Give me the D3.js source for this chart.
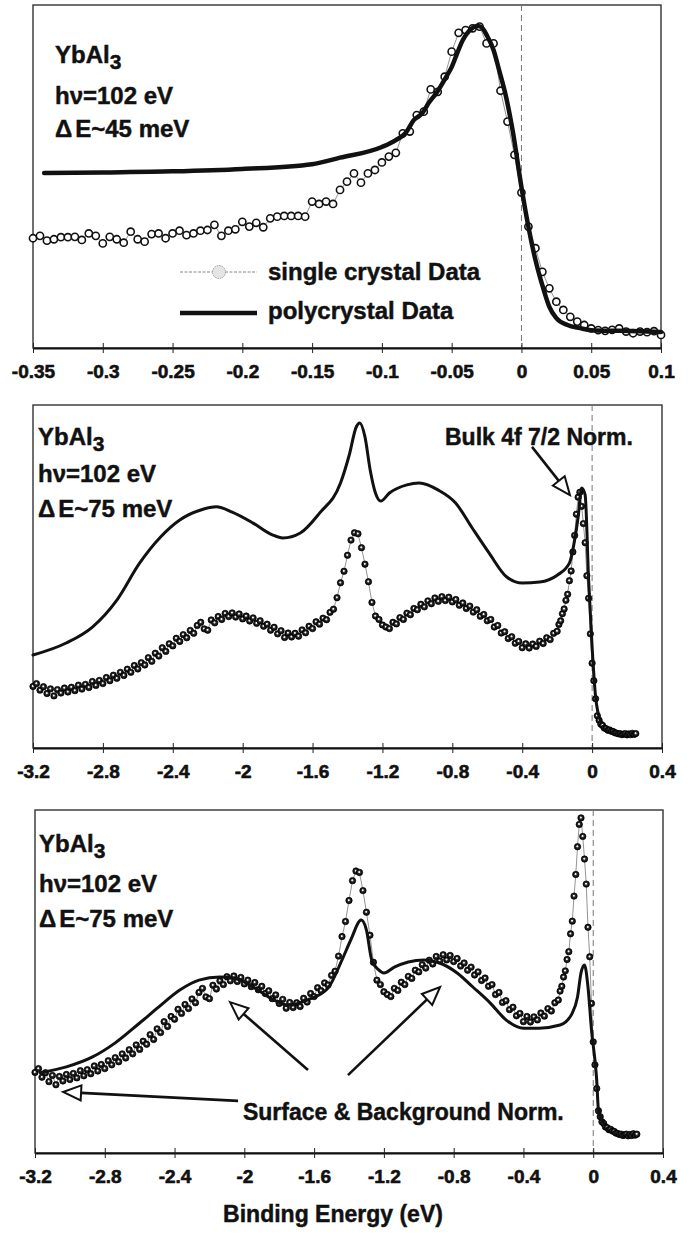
<!DOCTYPE html>
<html>
<head>
<meta charset="utf-8">
<script src="https://cdn.jsdelivr.net/npm/d3@7"></script>
<style>
  body { margin: 0; background: #fff; }
  text { font-family: "Liberation Sans", Arial, sans-serif; font-weight: bold; fill: #111; stroke: #111; stroke-width: 0.45px; }
</style>
</head>
<body>
<div id="chartBox"></div>
<script>
(function () {
  'use strict';

  // ---------- data ----------
  // top panel : high resolution scan close to E_F (dE ~ 45 meV)
  var p1Ticks = [-0.35, -0.3, -0.25, -0.2, -0.15, -0.1, -0.05, 0, 0.05, 0.1];
  var p1SingleStart = -0.35, p1SingleStep = 0.005;
  var p1Single = [
    32.0, 32.7, 31.3, 31.7, 32.3, 32.3, 32.4, 31.5, 33.4, 32.7,
    30.5, 32.4, 31.7, 30.7, 33.9, 31.7, 31.0, 33.2, 33.4, 32.0,
    33.4, 34.2, 32.9, 33.4, 34.2, 34.4, 35.9, 32.7, 34.2, 34.6,
    36.8, 35.4, 36.5, 35.2, 37.8, 38.3, 38.5, 38.5, 38.5, 38.3,
    42.7, 42.0, 42.7, 42.0, 46.1, 48.5,
    50.9, 48.2, 50.9, 51.9, 54.1, 55.8, 56.9, 62.6, 63.1, 67.9,
    68.9, 75.4, 74.7, 79.1, 86.4, 91.9, 92.7, 93.2, 93.7, 88.8,
    88.8, 75.0, 66.0, 56.3, 45.3, 35.4, 29.1, 22.2, 17.4, 13.5,
    11.1, 9.1, 7.7, 6.7, 5.7, 5.2, 5.0, 5.3, 5.7, 4.8,
    4.3, 4.8, 4.6, 4.9, 3.8
  ];
  var p1PolyEnergy = [
    -0.342, -0.30, -0.25, -0.20, -0.15, -0.13, -0.10, -0.09, -0.083, -0.077,
    -0.071, -0.066, -0.061, -0.054, -0.05, -0.046, -0.042, -0.037, -0.031, -0.028,
    -0.025, -0.02, -0.016, -0.011, -0.006, 0, 0.005, 0.01, 0.016, 0.02,
    0.025, 0.033, 0.042, 0.05, 0.07, 0.1
  ];
  var p1Poly = [
    51.0, 51.2, 51.5, 52.2, 53.6, 55.5, 58.6, 60.6, 62.7, 66.5,
    68.5, 71.7, 74.3, 79.0, 81.9, 86.0, 89.8, 92.7, 93.9, 93.3,
    91.3, 86.9, 81.0, 73.2, 62.7, 46.9, 35.3, 25.7, 16.9, 12.0,
    8.7, 6.7, 5.8, 5.2, 5.0, 4.7
  ];

  // wide scans (dE ~ 75 meV) : same single crystal spectrum in panels 2 and 3
  var wideTicks = [-3.2, -2.8, -2.4, -2, -1.6, -1.2, -0.8, -0.4, 0, 0.4];
  // -3.20 .. -0.20 eV, 0.02 eV steps
  var scBroadStart = -3.2, scBroadStep = 0.02;
  var scBroad = [
    23.5, 24.6, 22.1, 23.4, 20.8, 22.6, 19.9, 22.3, 21.0, 22.9,
    21.4, 23.2, 21.9, 24.0, 22.5, 24.3, 23.1, 25.4, 23.9, 25.8,
    24.6, 26.9, 25.7, 27.8, 26.6, 28.9, 27.7, 30.1, 28.9, 31.5,
    30.2, 32.6, 31.7, 34.5, 33.1, 36.2, 35.1, 38.3, 36.9, 39.8,
    39.0, 41.9, 40.7, 43.3, 42.1, 44.9, 43.8, 46.8, 48.0, 45.5,
    45.0, 48.9, 47.8, 50.2, 49.1, 51.4, 50.2, 51.6, 50.0, 51.2,
    49.3, 50.4, 48.5, 49.7, 47.6, 48.6, 46.5, 47.3, 45.0, 46.1,
    43.6, 44.8, 42.2, 43.9, 42.4, 43.8, 42.7, 45.1, 44.0, 46.5,
    45.6, 48.2, 47.3, 49.6, 49.0, 51.8, 53.0, 57.4, 63.1, 67.5,
    73.6, 79.4, 82.2, 81.8, 76.5, 70.2, 63.5, 55.6, 50.4, 49.1,
    47.0, 46.2, 45.6, 48.0, 47.4, 49.8, 49.1, 51.5, 50.9, 53.3,
    52.8, 54.9, 53.9, 56.2, 55.1, 57.3, 56.0, 57.8, 56.3, 57.6,
    55.8, 56.7, 54.5, 55.4, 53.3, 54.2, 51.9, 52.8, 50.3, 51.0,
    48.6, 49.1, 46.2, 46.8, 43.9, 44.4, 41.8, 42.5, 40.0, 40.7,
    38.3, 39.8, 38.2, 39.7, 38.8, 40.8, 39.9, 42.1, 41.4, 43.8, 44.6
  ];
  // -0.19 .. 0.25 eV, 0.01 eV steps
  var scEdgeStart = -0.19, scEdgeStep = 0.01;
  var scEdge = [
    47.2, 48.6, 51.3, 53.1, 56.4, 58.7, 63.9, 67.6, 74.9, 81.2,
    89.3, 95.8, 97.7, 92.3, 85.7, 78.4, 65.8, 57.2, 43.6, 32.4,
    25.7, 18.8, 12.3, 10.6, 9.1, 8.6, 7.6, 7.4, 6.8, 6.9,
    6.4, 6.3, 5.8, 5.7, 5.4, 5.5, 5.1, 5.3, 5.5, 5.0,
    5.4, 5.1, 5.6, 5.2, 5.5
  ];

  // polycrystal, bulk 4f 7/2 normalisation (middle panel)
  var poly2Energy = [
    -3.2, -3.01, -2.86, -2.72, -2.59, -2.47, -2.36, -2.24, -2.15, -2.06,
    -1.94, -1.83, -1.77, -1.67, -1.56, -1.44, -1.39, -1.35, -1.33, -1.30,
    -1.27, -1.24, -1.21, -1.16, -1.06, -0.99, -0.88, -0.78, -0.69, -0.59,
    -0.49, -0.40, -0.30, -0.20, -0.13, -0.10, -0.08, -0.06, -0.04, -0.02,
    0.0, 0.02, 0.05
  ];
  var poly2 = [
    35.5, 40.1, 46.2, 56.5, 70.6, 80.6, 87.1, 90.9, 92.1, 90.1,
    85.9, 81.4, 80.2, 82.1, 89.7, 101.2, 111.9, 122.6, 124.1, 118.8,
    106.1, 97.4, 94.3, 97.4, 100.5, 101.2, 98.5, 93.5, 84.4, 74.5,
    65.4, 63.0, 63.4, 66.0, 70.6, 79.4, 88.2, 99.3, 96.7, 64.2,
    38.5, 19.5, 9.9
  ];

  // polycrystal, surface & background normalisation (bottom panel)
  var poly3Energy = [
    -3.17, -3.02, -2.87, -2.74, -2.60, -2.49, -2.37, -2.26, -2.14, -2.06,
    -1.95, -1.83, -1.75, -1.64, -1.52, -1.44, -1.39, -1.33, -1.30, -1.27,
    -1.23, -1.20, -1.14, -1.06, -0.97, -0.88, -0.78, -0.69, -0.59, -0.50,
    -0.40, -0.31, -0.19, -0.12, -0.09, -0.07, -0.05, -0.03, -0.01, 0.02,
    0.03, 0.06
  ];
  var poly3 = [
    23.4, 25.1, 28.0, 32.1, 37.9, 42.6, 47.5, 50.4, 51.3, 51.0,
    48.4, 44.6, 43.1, 44.6, 48.1, 56.3, 62.1, 67.9, 65.0, 56.3,
    53.4, 52.5, 54.2, 55.7, 56.3, 55.4, 52.5, 48.4, 43.7, 38.8,
    36.4, 36.4, 37.3, 40.8, 45.5, 52.5, 54.8, 48.4, 35.9, 21.3,
    12.5, 8.7
  ];

  // ---------- helpers ----------
  function zip(xs, ys) {
    return ys.map(function (v, i) { return [xs[i], v]; });
  }
  function grid(start, step, vals) {
    return vals.map(function (v, i) { return [+(start + i * step).toFixed(3), v]; });
  }

  var p1SingleData = grid(p1SingleStart, p1SingleStep, p1Single);
  var scData = grid(scBroadStart, scBroadStep, scBroad)
    .concat(grid(scEdgeStart, scEdgeStep, scEdge));

  var tickFmt = function (d) { return String(+d.toFixed(2)); };

  var svg = d3.select("#chartBox").append("svg")
    .attr("width", 697)
    .attr("height", 1236)
    .style("display", "block");

  svg.append("rect").attr("width", 697).attr("height", 1236).attr("fill", "#fff");

  var defs = svg.append("defs");
  var ball = defs.append("radialGradient").attr("id", "ball")
    .attr("cx", "50%").attr("cy", "50%").attr("r", "50%")
    .attr("fx", "45%").attr("fy", "42%");
  ball.append("stop").attr("offset", "0").attr("stop-color", "#fff");
  ball.append("stop").attr("offset", "0.18").attr("stop-color", "#eee");
  ball.append("stop").attr("offset", "0.42").attr("stop-color", "#333");
  ball.append("stop").attr("offset", "1").attr("stop-color", "#000");

  function panel(cfg) {
    var g = svg.append("g");
    var x = d3.scaleLinear().domain(cfg.xDomain).range([cfg.left, cfg.right]);
    var y = d3.scaleLinear().domain(cfg.yDomain).range([cfg.bottom, cfg.top]);

    // frame
    g.append("rect")
      .attr("x", cfg.left).attr("y", cfg.top)
      .attr("width", cfg.right - cfg.left).attr("height", cfg.bottom - cfg.top)
      .attr("fill", "none").attr("stroke", "#333").attr("stroke-width", 1.4);

    // E_F marker
    g.append("line")
      .attr("x1", x(0)).attr("x2", x(0))
      .attr("y1", cfg.top).attr("y2", cfg.bottom)
      .attr("stroke", "#777").attr("stroke-width", 1)
      .attr("stroke-dasharray", "6,4");

    var axis = d3.axisBottom(x).tickValues(cfg.ticks)
      .tickSizeInner(5).tickSizeOuter(0).tickPadding(12).tickFormat(tickFmt);
    var ax = g.append("g")
      .attr("transform", "translate(0," + cfg.bottom + ")")
      .call(axis);
    ax.attr("font-size", null).attr("font-family", null);
    ax.select(".domain").attr("stroke", "#111").attr("stroke-width", 2.2);
    ax.selectAll(".tick line").attr("y1", -5).attr("stroke", "#222").attr("stroke-width", 1);
    ax.selectAll(".tick text")
      .style("font-size", "19px")
      .style("font-family", "'Liberation Sans', Arial, sans-serif")
      .style("font-weight", "bold")
      .style("fill", "#111")
      .style("stroke", "#111")
      .style("stroke-width", "0.6px");

    var line = d3.line()
      .x(function (d) { return x(d[0]); })
      .y(function (d) { return y(d[1]); });

    // single crystal : thin connecting line + markers
    g.append("path")
      .datum(cfg.single)
      .attr("d", line)
      .attr("fill", "none").attr("stroke", "#666").attr("stroke-width", 0.7);

    var dots = g.append("g").selectAll("circle")
      .data(cfg.single)
      .enter().append("circle")
      .attr("cx", function (d) { return x(d[0]); })
      .attr("cy", function (d) { return y(d[1]); })
      .attr("r", cfg.dotR);
    if (cfg.openDots) {
      dots.attr("fill", "#fff").attr("stroke", "#111").attr("stroke-width", 1.6);
    } else {
      dots.attr("fill", "url(#ball)").attr("stroke", "#000").attr("stroke-width", 0.7);
    }

    // polycrystal
    g.append("path")
      .datum(cfg.poly)
      .attr("d", line.curve(d3.curveMonotoneX))
      .attr("fill", "none").attr("stroke", "#111")
      .attr("stroke-width", cfg.polyW)
      .attr("stroke-linejoin", "round").attr("stroke-linecap", "round");

    // sample label
    var lx = cfg.left + cfg.labelDx;
    var t1 = g.append("text").attr("x", lx).attr("y", cfg.labelY[0]).attr("font-size", 24);
    t1.append("tspan").text("YbAl");
    t1.append("tspan").attr("dy", 6).attr("font-size", 21).text("3");
    g.append("text").attr("x", lx).attr("y", cfg.labelY[1]).attr("font-size", 24)
      .text("h\u03bd=102 eV");
    var t3 = g.append("text").attr("x", lx).attr("y", cfg.labelY[2]).attr("font-size", 24);
    t3.append("tspan").text("\u0394");
    t3.append("tspan").attr("dx", 3).text("E~" + cfg.res + " meV");

    return { g: g, x: x, y: y };
  }

  function arrow(g, x0, y0, x1, y1) {
    var dx = x1 - x0, dy = y1 - y0, len = Math.sqrt(dx * dx + dy * dy);
    var ux = dx / len, uy = dy / len;
    var hl = 18, hw = 7.5;
    var bx = x1 - ux * hl, by = y1 - uy * hl;
    g.append("line")
      .attr("x1", x0).attr("y1", y0).attr("x2", bx).attr("y2", by)
      .attr("stroke", "#111").attr("stroke-width", 2.6);
    g.append("path")
      .attr("d", "M" + x1 + "," + y1 +
        "L" + (bx - uy * hw) + "," + (by + ux * hw) +
        "L" + (bx + uy * hw) + "," + (by - ux * hw) + "Z")
      .attr("fill", "#fff").attr("stroke", "#111").attr("stroke-width", 2)
      .attr("stroke-linejoin", "miter");
  }

  // ---------- top panel ----------
  var P1 = panel({
    left: 33, right: 661, top: 5, bottom: 348,
    xDomain: [-0.35, 0.1], yDomain: [0, 100],
    ticks: p1Ticks,
    single: p1SingleData, poly: zip(p1PolyEnergy, p1Poly),
    openDots: true, dotR: 3.6, polyW: 4.5,
    labelDx: 22, labelY: [63, 104, 137], res: "45"
  });

  // legend
  var lg = P1.g.append("g");
  lg.append("line").attr("x1", 180).attr("x2", 257).attr("y1", 272).attr("y2", 272)
    .attr("stroke", "#666").attr("stroke-width", 0.8).attr("stroke-dasharray", "3,1.5");
  lg.append("circle").attr("cx", 219).attr("cy", 272).attr("r", 6.5)
    .attr("fill", "#e4e4e4").attr("stroke", "#999").attr("stroke-width", 1)
    .attr("stroke-dasharray", "1.5,1");
  lg.append("text").attr("x", 268).attr("y", 280).attr("font-size", 24).text("single crystal Data");
  lg.append("line").attr("x1", 180).attr("x2", 257).attr("y1", 313).attr("y2", 313)
    .attr("stroke", "#111").attr("stroke-width", 4.5);
  lg.append("text").attr("x", 268).attr("y", 319).attr("font-size", 24).text("polycrystal Data");

  // ---------- middle panel ----------
  var P2 = panel({
    left: 33, right: 662, top: 405, bottom: 748,
    xDomain: [-3.2, 0.4], yDomain: [0, 131],
    ticks: wideTicks,
    single: scData, poly: zip(poly2Energy, poly2),
    openDots: false, dotR: 3.2, polyW: 3,
    labelDx: 5, labelY: [445, 482, 517], res: "75"
  });
  P2.g.append("text").attr("x", P2.x(-0.842)).attr("y", P2.y(115.7))
    .attr("font-size", 23).text("Bulk 4f 7/2 Norm.");
  arrow(P2.g, P2.x(-0.344), P2.y(115), P2.x(-0.127), P2.y(96.6));

  // ---------- bottom panel ----------
  var P3 = panel({
    left: 35, right: 663, top: 810, bottom: 1153,
    xDomain: [-3.2, 0.4], yDomain: [0, 100],
    ticks: wideTicks,
    single: scData, poly: zip(poly3Energy, poly3),
    openDots: false, dotR: 3.2, polyW: 3,
    labelDx: 4, labelY: [852, 892, 927], res: "75"
  });
  P3.g.append("text").attr("x", P3.x(-2.008)).attr("y", P3.y(9.6))
    .attr("font-size", 23).text("Surface & Background Norm.");
  arrow(P3.g, P3.x(-2.036), P3.y(15.2), P3.x(-3.039), P3.y(17.8));
  arrow(P3.g, P3.x(-1.635), P3.y(24.2), P3.x(-2.082), P3.y(44.0));
  arrow(P3.g, P3.x(-1.406), P3.y(22.7), P3.x(-0.878), P3.y(48.4));

  svg.append("text")
    .attr("x", 333).attr("y", 1222)
    .attr("text-anchor", "middle")
    .attr("font-size", 23)
    .text("Binding Energy (eV)");
})();
</script>
</body>
</html>
